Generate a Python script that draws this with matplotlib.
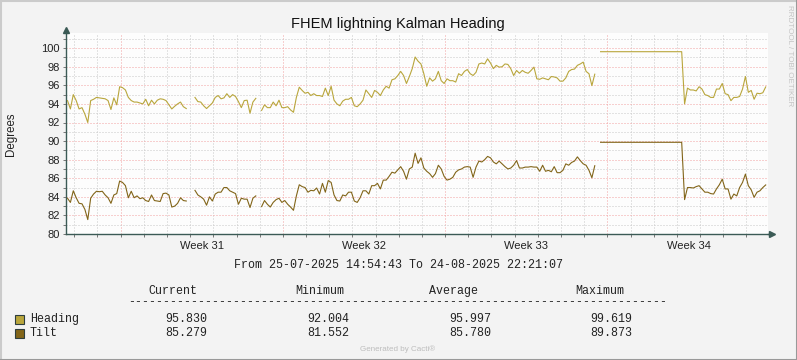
import matplotlib
matplotlib.use('Agg')
import matplotlib.pyplot as plt
import matplotlib.dates as mdates
import matplotlib.transforms as mtransforms
from matplotlib.patches import Rectangle
from matplotlib.lines import Line2D
import pandas as pd

nan = float('nan')

# 3-hourly samples (nan = no data)
heading_before = [
    94.36, 93.46, 95.0, 94.36, 93.46, 93.6, 92.9, 92.0, 94.36, 94.5,
    94.7, 94.65, 94.6, 94.55, 94.36, 93.4, 94.65, 93.9, 95.85, 95.75,
    95.5, 94.7, 94.36, 94.2, 94.2, 94.1, 94.0, 94.5, 93.8, 94.4,
    94.0, 94.4, 94.55, 94.5, 94.36, 93.9, 93.46, 93.75, 94.0, 94.2,
    93.7, 93.5, nan, nan, 94.7, 94.25, 94.2, 93.8, 93.5, 93.8,
    94.1, 94.7, 94.9, 94.55, 94.65, 95.1, 94.7, 95.0, 94.8, 94.25,
    93.6, 94.36, 94.4, 93.0, 94.2, 94.6, nan, 93.3, 93.9, 93.6,
    93.6, 94.2, 93.8, 94.4, 93.6, 93.6, 93.7, 93.35, 93.1, 94.7,
    95.8, 95.45, 95.15, 95.25, 94.9, 95.1, 94.9, 94.9, 94.8, 95.7,
    94.9, 95.9, 94.4, 94.0, 93.8, 94.3, 94.5, 94.5, 94.7, 93.8,
    93.7, 94.0, 94.4, 95.5, 95.1, 94.7, 95.45, 95.25, 94.9, 95.5,
    95.9, 95.7, 96.6, 96.7, 97.05, 97.5, 97.06, 96.2, 96.95, 97.8,
    99.05, 98.6, 98.3, 97.25, 95.9, 96.8, 96.45, 96.7, 97.5, 96.5,
    96.2, 96.7, 96.5, 96.5, 96.35, 97.25, 97.06, 97.5, 97.7, 97.25,
    97.06, 97.4, 98.3, 98.4, 98.3, 98.85, 98.4, 97.8, 98.15, 97.96,
    98.0, 98.3, 98.25, 97.8, 97.06, 97.6, 97.3, 97.6, 97.4, 97.3,
    97.6, 97.96, 96.7, 96.65, 96.8, 96.7, 96.6, 96.95, 96.9, 96.8,
    96.45, 96.45, 96.8, 97.5, 97.7, 97.75, 98.15, 98.3, 98.5, 97.5,
    97.25, 95.97, 97.2, nan,
]
heading_stuck = [99.62] * 29
heading_after = [
    94.0, 95.7, 95.5, 95.5, 95.4, 95.85, 95.6,
    95.0, 94.9, 94.7, 94.7, 95.6, 95.6, 96.2, 95.1, 95.0, 94.35,
    94.7, 94.7, 94.8, 95.6, 96.95, 95.25, 95.45, 94.5, 95.15, 95.1, 95.2, 95.83,
]

tilt_before = [
    83.85, 83.4, 84.65, 83.9, 83.3, 83.25, 82.65, 81.55, 83.85, 84.3,
    84.6, 84.55, 84.6, 84.2, 83.9, 83.3, 84.2, 84.35, 85.7, 85.55,
    85.2, 83.9, 84.6, 83.9, 84.1, 83.8, 83.9, 83.6, 83.5, 84.2,
    83.6, 83.55, 83.5, 84.35, 84.4, 84.2, 82.9, 83.0, 83.3, 83.9,
    83.6, 83.55, nan, nan, 84.7, 84.2, 84.0, 83.75, 83.1, 84.0,
    83.55, 84.3, 84.5, 84.5, 85.0, 85.0, 84.65, 84.5, 84.35, 83.2,
    83.85, 83.75, 83.75, 82.85, 83.85, 84.1, nan, 82.95, 83.6, 83.2,
    82.9, 83.4, 83.7, 83.85, 83.4, 83.6, 83.2, 82.9, 82.55, 84.1,
    85.3, 85.1, 85.0, 84.5, 84.7, 84.65, 84.95, 84.3, 85.45, 84.5,
    85.75, 85.55, 84.2, 83.6, 83.55, 84.2, 84.1, 84.5, 84.5, 83.55,
    83.4, 83.9, 84.65, 84.65, 84.3, 85.2, 85.2, 85.45, 84.85, 85.8,
    85.8, 86.2, 86.65, 86.55, 86.9, 87.25, 86.75, 85.9, 87.0, 87.2,
    88.7, 87.6, 88.2, 87.1, 86.75, 86.5, 86.1, 86.5, 87.4, 87.0,
    86.2, 85.8, 85.9, 86.1, 86.65, 86.9, 87.0, 87.2, 87.25, 87.2,
    86.1, 87.2, 87.85, 87.75, 88.0, 88.35, 88.2, 87.75, 87.55, 87.85,
    87.55, 87.25, 87.0, 87.1, 87.4, 87.9, 87.1, 87.1, 87.2, 87.2,
    87.25, 87.2, 87.2, 86.75, 87.4, 86.75, 86.85, 86.7, 87.25, 86.6,
    86.6, 86.85, 87.55, 87.4, 87.7, 87.85, 88.3, 87.9, 87.55, 87.4,
    86.85, 86.05, 87.35, nan,
]
tilt_stuck = [89.87] * 29
tilt_after = [
    83.7, 85.0, 85.0, 84.95, 85.1, 85.2, 84.85,
    84.5, 84.5, 84.35, 84.3, 84.85, 85.3, 85.9, 84.85, 84.85, 83.75,
    84.3, 84.1, 85.0, 85.55, 86.45, 85.2, 84.75, 83.95, 84.5, 84.65, 85.0, 85.28,
]

series_names = ['Heading', 'Tilt']
series_colors = ['#B9A63C', '#826519']
col_headers = ['Current', 'Minimum', 'Average', 'Maximum']
stats = [['95.830', '92.004', '95.997', '99.619'],
         ['85.279', '81.552', '85.780', '89.873']]
week_labels = ['Week 31', 'Week 32', 'Week 33', 'Week 34']
week_starts = ['2025-07-28', '2025-08-04', '2025-08-11', '2025-08-18']

heading = heading_before + heading_stuck + heading_after
tilt = tilt_before + tilt_stuck + tilt_after

t_start = pd.Timestamp('2025-07-25 14:54:43')
t_end = pd.Timestamp('2025-08-24 22:21:07')
times = pd.date_range(t_start + pd.Timedelta(minutes=124), periods=len(heading), freq='3h')

plt.rcParams['font.family'] = 'Liberation Sans'
W, H = 797, 360
axis_color = '#3B5A55'

fig = plt.figure(figsize=(W / 100, H / 100), dpi=100, facecolor='#F3F3F3')
ax = fig.add_axes([65.5 / W, 1 - 234 / H, (768 - 65.5) / W, (234 - 33.3) / H])
ax.set_facecolor('#FDFDFD')

ax.plot(times, heading, color=series_colors[0], lw=0.8, zorder=3)
ax.plot(times, tilt, color=series_colors[1], lw=0.8, zorder=3)

ax.set_xlim(t_start, t_end)
ax.set_ylim(80, 101.6)

ax.set_yticks(range(80, 101, 2))
ax.set_yticks(range(81, 102, 2), minor=True)
ax.xaxis.set_major_locator(mdates.WeekdayLocator(byweekday=mdates.MO))
ax.xaxis.set_minor_locator(mdates.DayLocator())
ax.xaxis.set_major_formatter(plt.NullFormatter())
ax.xaxis.set_minor_formatter(plt.NullFormatter())

ax.set_axisbelow(True)
ax.grid(which='major', color='#F2A2A2', linestyle=(0, (1, 2)), lw=0.72)
ax.grid(which='minor', color='#C9C9C9', linestyle=(0, (1, 2)), lw=0.72)

ax.tick_params(which='both', length=2.2, width=0.7, color='#777777', direction='out')
ax.tick_params(axis='y', labelsize=8, labelcolor='#222222', pad=2)

for side in ['top', 'right']:
    ax.spines[side].set_visible(False)
for side in ['left', 'bottom']:
    ax.spines[side].set_color(axis_color)
    ax.spines[side].set_linewidth(1.0)

# axis arrows
ax.plot([0, 0], [1, 1.015], color=axis_color, lw=1.0, transform=ax.transAxes, clip_on=False)
ax.plot(0, 1.016, marker='^', ms=4, color=axis_color, transform=ax.transAxes, clip_on=False)
ax.plot([1, 1.003], [0, 0], color=axis_color, lw=1.0, transform=ax.transAxes, clip_on=False)
ax.plot(1.005, 0, marker='>', ms=4, color=axis_color, transform=ax.transAxes, clip_on=False)

xt = ax.get_xaxis_transform()
for lab, ws in zip(week_labels, week_starts):
    ax.text(pd.Timestamp(ws) + pd.Timedelta(hours=84), -0.076, lab, transform=xt,
            ha='center', va='baseline', fontsize=8, color='#222222')


def fx(px):
    return px / W


def fy(py):
    return 1 - py / H


fig.text(fx(397.5), fy(28.3), 'FHEM lightning Kalman Heading', ha='center', va='baseline',
         fontsize=10.5, color='#111111')
fig.text(fx(11.5), fy(134.5), 'Degrees', rotation=90, ha='center', va='center',
         fontsize=8.3, color='#222222')
fig.text(fx(789), fy(56), 'RRDTOOL / TOBI OETIKER', rotation=-90, ha='center', va='center',
         fontsize=5.8, color='#C4C4C4')

mono = 'Liberation Mono'
fig.text(fx(398), fy(267.5), 'From 25-07-2025 14:54:43 To 24-08-2025 22:21:07',
         ha='center', va='baseline', fontsize=8.4, family=mono, color='#222222')

for name, cx in zip(col_headers, [172.5, 320, 453.5, 600]):
    fig.text(fx(cx), fy(294.3), name, ha='center', va='baseline', fontsize=8.4,
             family=mono, color='#222222')
fig.text(fx(128), fy(305), '-' * 77, ha='left', va='baseline', fontsize=8.4,
         family=mono, color='#222222')

row_base = [322.3, 336]
for k, name in enumerate(series_names):
    fig.patches.append(Rectangle((fx(15), fy(row_base[k] + 1.5)), 9 / W, 9 / H,
                                 transform=fig.transFigure, facecolor=series_colors[k],
                                 edgecolor='#2E3E3E', lw=0.8))
    fig.text(fx(30), fy(row_base[k]), name, ha='left', va='baseline', fontsize=8.4,
             family=mono, color='#222222')
    for val, cx in zip(stats[k], [186, 328, 470, 611]):
        fig.text(fx(cx), fy(row_base[k]), val, ha='center', va='baseline', fontsize=8.4,
                 family=mono, color='#222222')

fig.text(fx(398), fy(349), 'Generated by Cacti®', ha='center', va='center',
         fontsize=5.8, color='#BDBDBD')

# canvas border
fig.lines.append(Line2D([0.5 / W, 0.5 / W], [0, 1], transform=fig.transFigure, color='#CBCBCB', lw=1.5))
fig.lines.append(Line2D([0, 1], [1 - 0.5 / H, 1 - 0.5 / H], transform=fig.transFigure, color='#CBCBCB', lw=1.5))
fig.lines.append(Line2D([1 - 0.5 / W, 1 - 0.5 / W], [0, 1], transform=fig.transFigure, color='#999999', lw=1.5))
fig.lines.append(Line2D([0, 1], [0.5 / H, 0.5 / H], transform=fig.transFigure, color='#999999', lw=1.5))

fig.savefig('out.png', dpi=100, facecolor=fig.get_facecolor())
